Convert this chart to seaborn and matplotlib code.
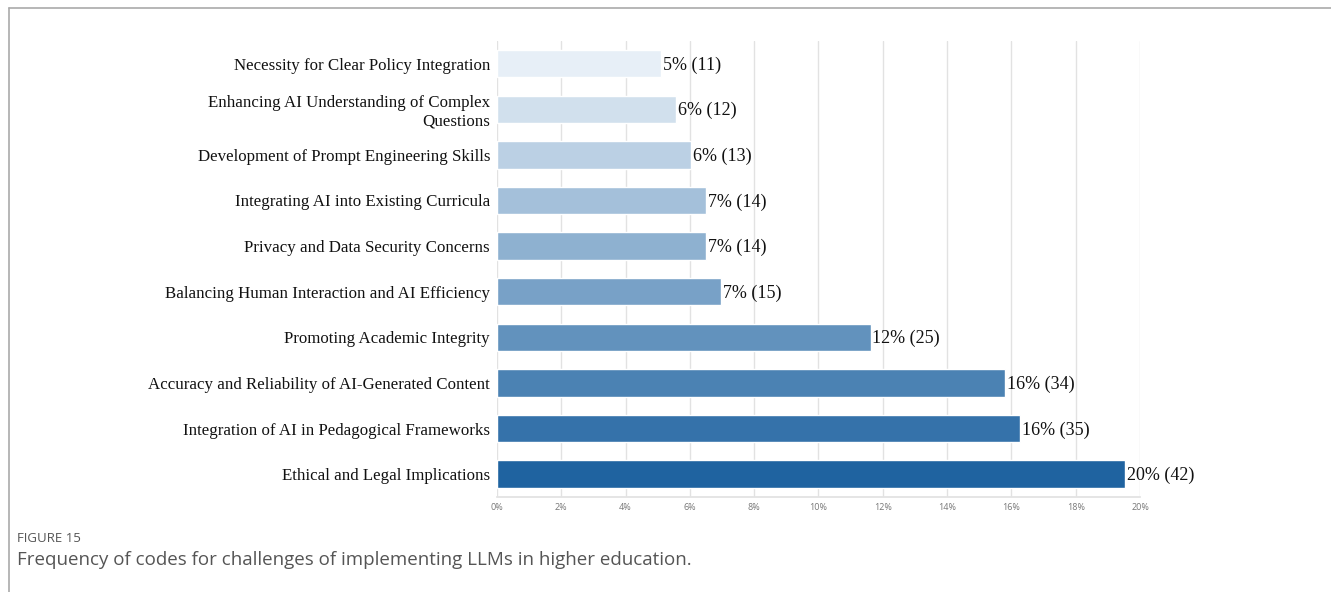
import matplotlib
matplotlib.use("Agg")
import matplotlib.pyplot as plt
from matplotlib.ticker import PercentFormatter, MultipleLocator
import seaborn as sns
import pandas as pd

# Coded challenges and how many times each code appeared
categories = [
    "Necessity for Clear Policy Integration",
    "Enhancing AI Understanding of Complex\nQuestions",
    "Development of Prompt Engineering Skills",
    "Integrating AI into Existing Curricula",
    "Privacy and Data Security Concerns",
    "Balancing Human Interaction and AI Efficiency",
    "Promoting Academic Integrity",
    "Accuracy and Reliability of AI-Generated Content",
    "Integration of AI in Pedagogical Frameworks",
    "Ethical and Legal Implications",
]
counts = [11, 12, 13, 14, 14, 15, 25, 34, 35, 42]

total = sum(counts)
df = pd.DataFrame({
    "code": categories,
    "count": counts,
    "share": [100 * c / total for c in counts],
})

sns.set_theme(style="white")
serif = ["Liberation Serif", "DejaVu Serif"]
sans = ["Open Sans", "DejaVu Sans"]

fig = plt.figure(figsize=(13.31, 5.92), dpi=100)
ax = fig.add_axes([0.3734, 0.1605, 0.4831, 0.7705])

palette = sns.blend_palette(["#e7eff7", "#1f63a0"], n_colors=len(categories))
sns.barplot(data=df, x="share", y="code", hue="code", palette=palette,
            legend=False, width=0.6, saturation=1, ax=ax, orient="h")

for i, (s, c) in enumerate(zip(df["share"], df["count"])):
    ax.text(s + 0.05, i + 0.03, f"{s:.0f}% ({c})", va="center", ha="left",
            fontsize=13, family=serif, color="#111111")

ax.set_xlim(0, 20)
ax.xaxis.set_major_locator(MultipleLocator(2))
ax.xaxis.set_major_formatter(PercentFormatter(decimals=0))
ax.grid(axis="x", color="#e2e2e2", linewidth=1)
ax.set_axisbelow(True)
for side in ["top", "right", "left"]:
    ax.spines[side].set_visible(False)
ax.spines["bottom"].set_color("#e2e2e2")
ax.tick_params(axis="x", labelsize=6.5, labelcolor="#777777", length=0, pad=4)
ax.tick_params(axis="y", length=0, pad=5)
for lbl in ax.get_xticklabels():
    lbl.set_family(sans)
for lbl in ax.get_yticklabels():
    lbl.set_family(serif)
    lbl.set_fontsize(12.2)
    lbl.set_color("#111111")
    lbl.set_horizontalalignment("right")
    lbl.set_multialignment("right")
ax.set_xlabel("")
ax.set_ylabel("")

# Caption block and page frame
fig.text(17 / 1331, 1 - 538 / 592, "FIGURE 15", fontsize=9.5, color="#555555",
         family=sans, va="center", ha="left")
fig.text(17 / 1331, 1 - 560 / 592,
         "Frequency of codes for challenges of implementing LLMs in higher education.",
         fontsize=13.5, color="#555555", family=sans, va="center", ha="left")
fig.add_artist(plt.Line2D([9 / 1331, 9 / 1331], [0, 1 - 8 / 592],
                          color="#aaaaaa", linewidth=1.2, transform=fig.transFigure))
fig.add_artist(plt.Line2D([9 / 1331, 1], [1 - 8 / 592, 1 - 8 / 592],
                          color="#aaaaaa", linewidth=1.2, transform=fig.transFigure))

fig.savefig("out.png", dpi=100)
